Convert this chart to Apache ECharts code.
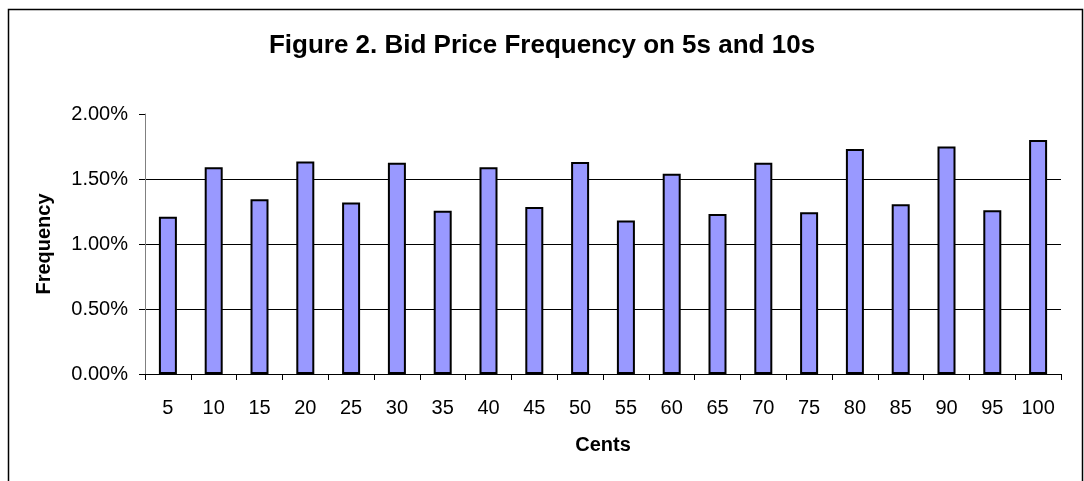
<!DOCTYPE html>
<html>
<head>
<meta charset="utf-8">
<script src="https://cdn.jsdelivr.net/npm/echarts@6/dist/echarts.min.js"></script>
<style>html,body{margin:0;padding:0;background:#fff}#c{width:1084px;height:481px}</style>
</head>
<body>
<div id="c"></div>
<script>
const categories = ['5','10','15','20','25','30','35','40','45','50','55','60','65','70','75','80','85','90','95','100'];
const frequency = [1.21,1.59,1.345,1.635,1.32,1.625,1.255,1.59,1.285,1.63,1.18,1.54,1.23,1.625,1.245,1.73,1.305,1.75,1.26,1.80];
const yTicks = [0, 0.5, 1.0, 1.5, 2.0];

const FONT = 'Liberation Sans, Arial, sans-serif';
const chart = echarts.init(document.getElementById('c'));
chart.setOption({
  animation: false,
  backgroundColor: '#fff',
  graphic: [{
    type: 'rect', left: 6, top: 7,
    shape: { width: 1074, height: 490 },
    style: { fill: 'none', stroke: '#000', lineWidth: 1.5 },
    silent: true
  }],
  title: {
    text: 'Figure 2. Bid Price Frequency on 5s and 10s',
    left: 'center', top: 28,
    textStyle: { fontFamily: FONT, fontSize: 26, fontWeight: 'bold', color: '#000' }
  },
  grid: { left: 145, right: 23, top: 114, bottom: 107 },
  xAxis: {
    type: 'category',
    data: categories,
    name: 'Cents', nameLocation: 'middle', nameGap: 61,
    nameTextStyle: { fontFamily: FONT, fontSize: 20, fontWeight: 'bold', color: '#000' },
    axisLine: { lineStyle: { color: '#000', width: 1 } },
    axisTick: { show: true, alignWithLabel: false, length: 6, lineStyle: { color: '#000' } },
    axisLabel: { interval: 0, margin: 24, fontFamily: FONT, fontSize: 20, color: '#000' }
  },
  yAxis: {
    type: 'value', min: yTicks[0], max: yTicks[yTicks.length - 1], interval: 0.5,
    name: 'Frequency', nameLocation: 'middle', nameGap: 91, nameRotate: 90,
    nameTextStyle: { fontFamily: FONT, fontSize: 20, fontWeight: 'bold', color: '#000' },
    axisLine: { show: true, lineStyle: { color: '#808080', width: 1 } },
    axisTick: { show: true, length: 6, lineStyle: { color: '#000' } },
    axisLabel: { margin: 17, fontFamily: FONT, fontSize: 20, color: '#000',
      formatter: v => v.toFixed(2) + '%' },
    splitLine: { show: true, showMaxLine: false, lineStyle: { color: '#000', width: 1 } }
  },
  series: [{
    type: 'bar',
    data: frequency,
    barWidth: 18,
    itemStyle: { color: '#9999FF', borderColor: '#000', borderWidth: 2 }
  }]
});
</script>
</body>
</html>
